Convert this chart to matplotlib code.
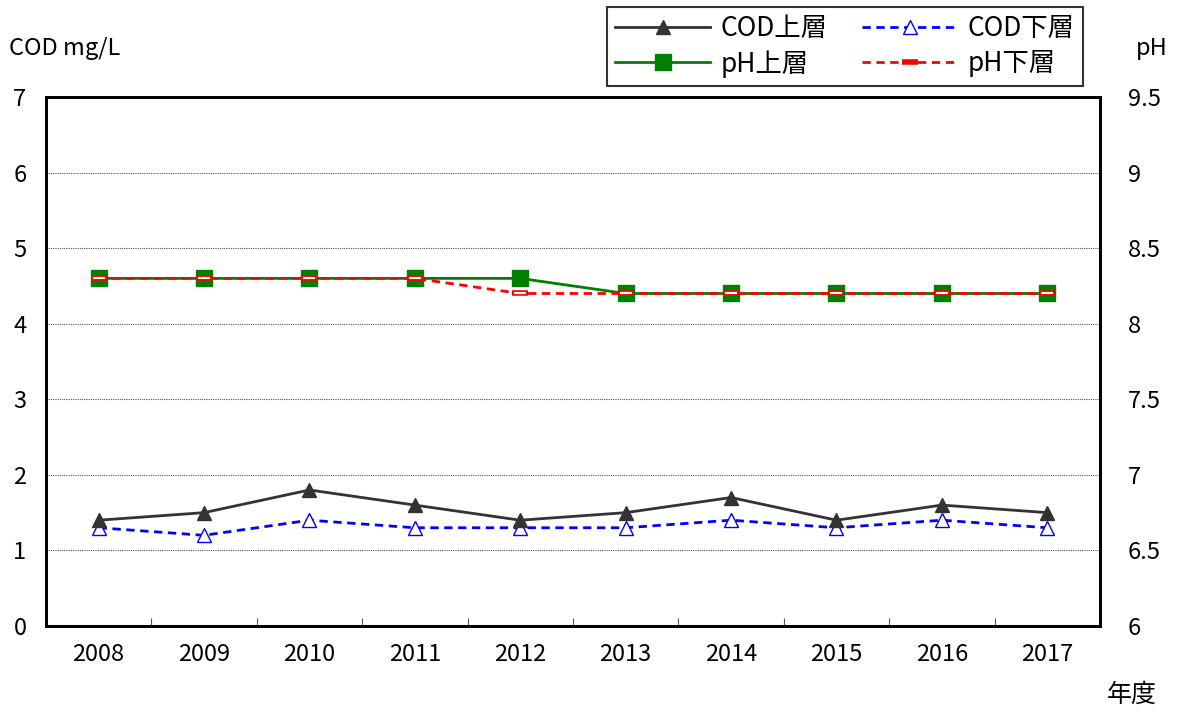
import matplotlib
matplotlib.use("Agg")
import matplotlib.pyplot as plt
from matplotlib.ticker import FixedLocator

plt.rcParams["font.family"] = ["Noto Sans CJK JP", "DejaVu Sans"]

years = ["2008", "2009", "2010", "2011", "2012", "2013", "2014", "2015", "2016", "2017"]
cod_upper = [1.4, 1.5, 1.8, 1.6, 1.4, 1.5, 1.7, 1.4, 1.6, 1.5]
cod_lower = [1.3, 1.2, 1.4, 1.3, 1.3, 1.3, 1.4, 1.3, 1.4, 1.3]
ph_upper = [8.3, 8.3, 8.3, 8.3, 8.3, 8.2, 8.2, 8.2, 8.2, 8.2]
ph_lower = [8.3, 8.3, 8.3, 8.3, 8.2, 8.2, 8.2, 8.2, 8.2, 8.2]

fs = 17
x = list(range(len(years)))

fig = plt.figure(figsize=(11.77, 7.16), dpi=100)
ax = fig.add_axes([0.039, 0.1257, 0.8956, 0.7388])
ax2 = ax.twinx()

ax.set_xlim(-0.5, len(years) - 0.5)
ax.set_ylim(0, 7)
ax.set_yticks(range(0, 8))
ax2.set_ylim(6, 9.5)
ax2.set_yticks([6, 6.5, 7, 7.5, 8, 8.5, 9, 9.5])
ax2.set_yticklabels(["6", "6.5", "7", "7.5", "8", "8.5", "9", "9.5"])

ax.grid(axis="y", color="#555555", linestyle=(0, (1, 1)), linewidth=0.8)
ax.set_xticks(x)
ax.set_xticklabels(years, fontsize=fs)
ax.tick_params(axis="x", which="major", length=0, pad=12)
ax.xaxis.set_minor_locator(FixedLocator([i + 0.5 for i in x[:-1]]))
ax.tick_params(axis="x", which="minor", direction="in", length=6, width=0.8, color="#555555")
ax.tick_params(axis="y", length=0, pad=14, labelsize=fs)
ax2.tick_params(axis="y", length=0, pad=20, labelsize=fs)

for a in (ax, ax2):
    for s in a.spines.values():
        s.set_linewidth(2)
        s.set_color("black")

l1, = ax.plot(x, cod_upper, color="#333333", linewidth=2, marker="^", markersize=10,
              markerfacecolor="#333333", markeredgecolor="#333333", label="COD上層", zorder=5)
l2, = ax.plot(x, cod_lower, color="blue", linewidth=2, linestyle=(0, (3, 2)), marker="^",
              markersize=10, markerfacecolor="white", markeredgecolor="blue",
              label="COD下層", zorder=4)
l3, = ax2.plot(x, ph_upper, color="green", linewidth=2, marker="s", markersize=11,
               markerfacecolor="green", markeredgecolor="green", label="pH上層", zorder=3)
l4, = ax2.plot(x, ph_lower, color="red", linewidth=2, linestyle=(0, (3, 2)), marker="_",
               markersize=11, markeredgewidth=4, markeredgecolor="red", label="pH下層", zorder=4)
ax2.plot(x, ph_lower, linestyle="none", marker="_", markersize=9, markeredgewidth=1.5,
         markeredgecolor="white", zorder=5)

fig.text(0.008, 0.932, "COD mg/L", fontsize=fs, ha="left", va="center")
fig.text(0.992, 0.932, "pH", fontsize=fs, ha="right", va="center")
fig.text(0.983, 0.012, "年度", fontsize=fs + 1, ha="right", va="bottom")

leg = fig.legend(handles=[l1, l3, l2, l4], ncol=2, loc="upper left",
                 bbox_to_anchor=(0.516, 0.99), fontsize=19, frameon=True,
                 fancybox=False, edgecolor="black", handlelength=3.6,
                 columnspacing=1.3, borderpad=0.3, labelspacing=0.3,
                 handletextpad=0.4, borderaxespad=0)
leg.get_frame().set_linewidth(1.5)

fig.savefig("out.png", dpi=100)
